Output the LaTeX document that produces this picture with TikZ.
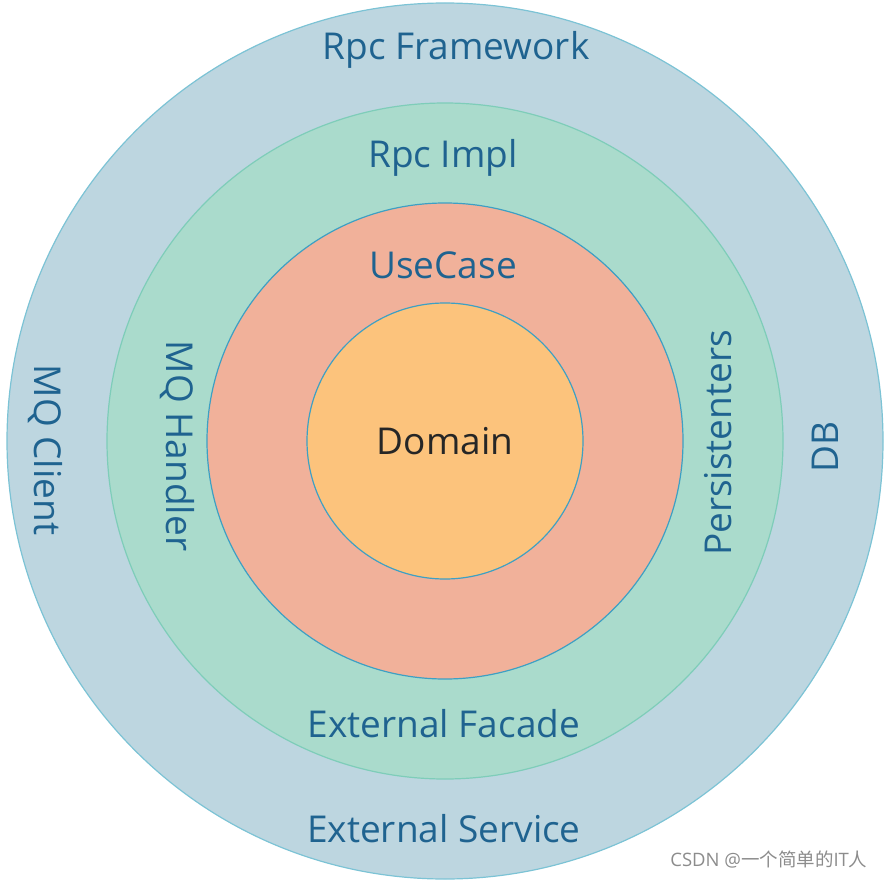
\documentclass[tikz,border=0pt]{standalone}
\usepackage{fontspec}
\setmainfont{Open Sans}
\newfontfamily\cjk{Noto Sans CJK SC}
\usepackage{tikz}
\usetikzlibrary{shapes.geometric}
\usetikzlibrary{calc,positioning}
\usepackage[dvipsnames]{xcolor}
\definecolor{outerfill}{HTML}{BDD6E0}
\definecolor{outerline}{HTML}{7CC3D5}
\definecolor{implfill}{HTML}{AADBCC}
\definecolor{implline}{HTML}{7ECDB9}
\definecolor{casefill}{HTML}{F1B19A}
\definecolor{domainfill}{HTML}{FCC37C}
\definecolor{ringline}{HTML}{3DA0C4}
\definecolor{labeltext}{HTML}{1F6390}

\begin{document}
\begin{tikzpicture}[x=1pt,y=-1pt,
        ring/.style={circle, draw, line width=1.2pt, inner sep=0pt},
        lbl/.style={text=labeltext, font=\fontsize{37}{40}\selectfont}]

                \useasboundingbox (0,0) rectangle (886,880);

                % rings from outside to inside
                \foreach \x/ \r/ \f/ \l in {outer/438/outerfill/outerline, impl/338/implfill/implline, case/238/casefill/ringline, domain/138/domainfill/ringline}{
                    \node[ring, fill=\f, draw=\l, minimum size=2*\r pt] (\x) at (445,441) {};
                }

                \node[font=\fontsize{37}{40}\selectfont, text=black!85] (dom) at (445,441) {Domain};

                \node[lbl] (rpcfw) at (456,50) {Rpc Framework};
                \node[lbl] (rpcimpl) at (443,158) {Rpc Impl};
                \node[lbl] (usecase) at (443,265) {UseCase};
                \node[lbl] (extfac) at (444,724) {External Facade};
                \node[lbl] (extsvc) at (444,829) {External Service};

                \node[lbl, rotate=-90] (mqclient) at (45,450) {MQ Client};
                \node[lbl, rotate=-90] (mqhandler) at (177,446) {MQ Handler};
                \node[lbl, rotate=90] (persist) at (718,443) {Persistenters};
                \node[lbl, rotate=90] (db) at (825,447) {DB};

                \node[text=black!45, font=\fontsize{18.5}{20}\selectfont, anchor=east] (mark) at (871,860) {CSDN @{\cjk 一个简单的}IT{\cjk 人}};

        \end{tikzpicture}
\end{document}
